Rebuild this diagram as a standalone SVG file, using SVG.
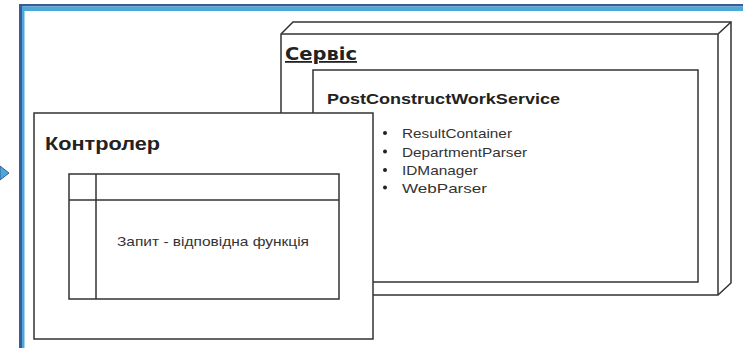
<svg xmlns="http://www.w3.org/2000/svg" width="743" height="348" viewBox="0 0 743 348">
<style>
.ln{fill:#fff;stroke:#333;stroke-width:1.5}
.tl{fill:none;stroke:#333;stroke-width:1.5}
.t{font-family:"Liberation Sans",Arial,sans-serif;fill:#222}
.s{font-family:"Liberation Sans",Arial,sans-serif;font-size:13.5px;fill:#333}
</style>
<rect x="0" y="0" width="743" height="348" fill="#fff"/>
<g id="frame">
<rect x="19" y="4" width="724" height="2.5" fill="#3a5a9c"/>
<rect x="19" y="4" width="3" height="344" fill="#3a5a9c"/>
<rect x="22" y="6.5" width="721" height="4.5" fill="#4aa9d6"/>
<rect x="22" y="6.5" width="2.5" height="342" fill="#4aa9d6"/>
<path d="M0 166 L9 173 L0 180 Z" fill="#4aa9d6" stroke="#3a5a9c" stroke-width="1"/>
</g>
<g id="service">
<path class="ln" d="M281 34 L293 22 H731 V283 L718 295 H281 Z"/>
<path class="tl" d="M281 34 H718 L731 22 M718 34 V295"/>
<text x="285" y="60" class="t" font-weight="bold" font-size="18" text-decoration="underline" textLength="72" lengthAdjust="spacingAndGlyphs" style="font-family:'DejaVu Sans',sans-serif">Сервіс</text>
</g>
<g id="postconstruct">
<rect class="ln" x="313" y="70" width="385" height="212"/>
<text x="327" y="104" class="t" font-weight="bold" font-size="15" textLength="233" lengthAdjust="spacingAndGlyphs">PostConstructWorkService</text>
<g fill="#222">
<circle cx="385" cy="133" r="2"/><circle cx="385" cy="151.5" r="2"/><circle cx="385" cy="170" r="2"/><circle cx="385" cy="187.5" r="2"/>
</g>
<text x="402" y="138" class="s" textLength="110" lengthAdjust="spacingAndGlyphs">ResultContainer</text>
<text x="402" y="156.5" class="s" textLength="125" lengthAdjust="spacingAndGlyphs">DepartmentParser</text>
<text x="402" y="175" class="s" textLength="76" lengthAdjust="spacingAndGlyphs">IDManager</text>
<text x="402" y="192.5" class="s" textLength="85" lengthAdjust="spacingAndGlyphs">WebParser</text>
</g>
<g id="controller">
<rect class="ln" x="34" y="113" width="339" height="226"/>
<text x="45" y="150" class="t" font-weight="bold" font-size="18" textLength="115" lengthAdjust="spacingAndGlyphs">Контролер</text>
<rect class="ln" x="69" y="174" width="270" height="125"/>
<path class="tl" d="M96 174 V299 M69 200 H339"/>
<text x="117" y="246" class="s" textLength="192" lengthAdjust="spacingAndGlyphs">Запит - відповідна функція</text>
</g>
<g id="connectors"></g>
</svg>
